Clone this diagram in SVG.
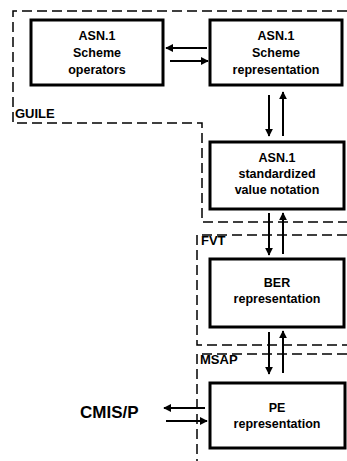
<svg xmlns="http://www.w3.org/2000/svg" width="347" height="461" viewBox="0 0 347 461">
<style>
.box{fill:#fff;stroke:#000;stroke-width:3}
.t{font-family:"Liberation Sans",Arial,sans-serif;font-weight:bold;font-size:12.5px;text-anchor:middle;fill:#000}
.lab{font-family:"Liberation Sans",Arial,sans-serif;font-weight:bold;font-size:13px;fill:#000}
.dash{fill:none;stroke:#000;stroke-width:1.5;stroke-dasharray:10,5}
.arr{fill:none;stroke:#000;stroke-width:2;marker-end:url(#ah)}
</style>
<defs>
<marker id="ah" viewBox="0 0 10 10" refX="9" refY="5" markerWidth="4" markerHeight="4" orient="auto" markerUnits="strokeWidth">
<path d="M0,0 L10,5 L0,10 z" fill="#000"/>
</marker>
</defs>
<rect width="347" height="461" fill="#fff"/>
<g id="frames">
<path class="dash" d="M347,11 H13 V123 H202 V222 H347"/>
<path class="dash" d="M347,235 H197 V345 H347"/>
<path class="dash" d="M347,354 H197 V461"/>
<text class="lab" x="15" y="118">GUILE</text>
<text class="lab" x="201" y="245">FVT</text>
<text class="lab" x="200" y="364">MSAP</text>
</g>
<g id="n1"><rect class="box" x="31" y="20" width="132" height="65"/>
<text class="t" x="97" y="40">ASN.1</text><text class="t" x="97" y="57">Scheme</text><text class="t" x="97" y="74">operators</text></g>
<g id="n2"><rect class="box" x="210" y="20" width="132" height="65"/>
<text class="t" x="276" y="40">ASN.1</text><text class="t" x="276" y="57">Scheme</text><text class="t" x="276" y="74">representation</text></g>
<g id="n3"><rect class="box" x="210" y="142" width="134" height="67"/>
<text class="t" x="277" y="162">ASN.1</text><text class="t" x="277" y="178">standardized</text><text class="t" x="277" y="194">value notation</text></g>
<g id="n4"><rect class="box" x="210" y="259" width="134" height="68"/>
<text class="t" x="277" y="287">BER</text><text class="t" x="277" y="303">representation</text></g>
<g id="n5"><rect class="box" x="210" y="383" width="135" height="65"/>
<text class="t" x="277" y="412">PE</text><text class="t" x="277" y="428">representation</text></g>
<g id="cmis"><text x="80" y="418" font-family="Liberation Sans,Arial,sans-serif" font-weight="bold" font-size="17">CMIS/P</text></g>
<g id="connectors">
<line class="arr" x1="207" y1="48" x2="166" y2="48"/>
<line class="arr" x1="170" y1="61" x2="208" y2="61"/>
<line class="arr" x1="269" y1="95" x2="269" y2="136"/>
<line class="arr" x1="283" y1="136" x2="283" y2="92"/>
<line class="arr" x1="269" y1="213" x2="269" y2="255"/>
<line class="arr" x1="283" y1="254" x2="283" y2="213"/>
<line class="arr" x1="269" y1="332" x2="269" y2="374"/>
<line class="arr" x1="283" y1="373" x2="283" y2="331"/>
<line class="arr" x1="205" y1="408" x2="164" y2="408"/>
<line class="arr" x1="166" y1="421" x2="207" y2="421"/>
</g>
</svg>
